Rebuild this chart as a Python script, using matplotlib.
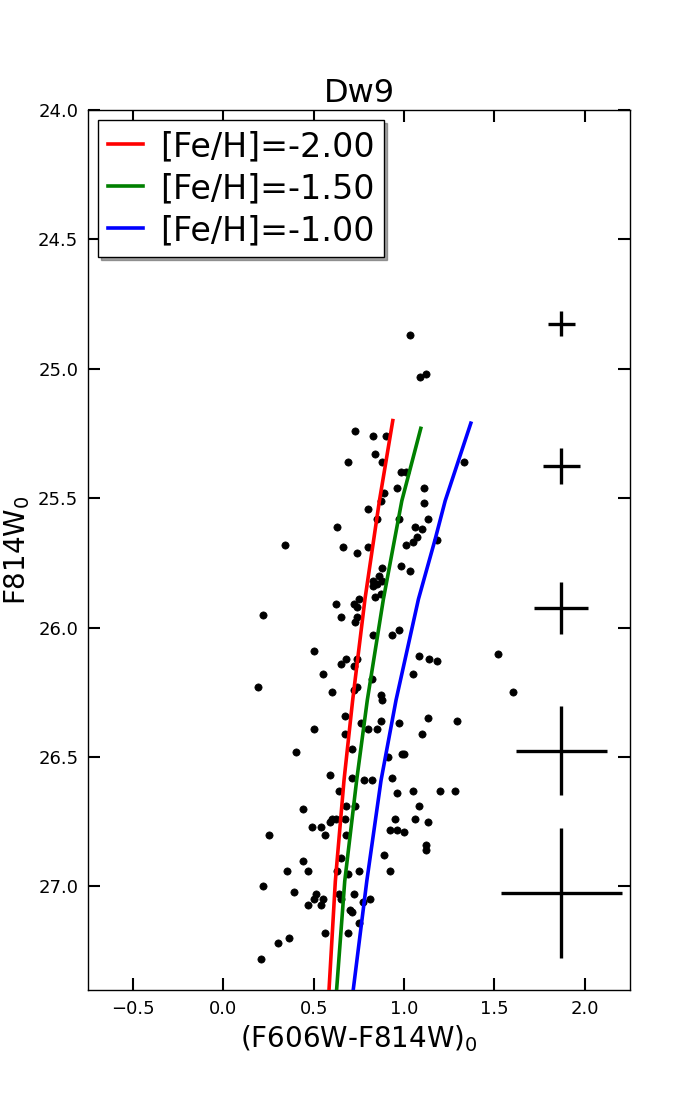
import matplotlib
matplotlib.use("Agg")
import matplotlib.pyplot as plt
import numpy as np

# ---- data ----
star_color = [1.03, 1.12, 1.09,
    0.73, 0.83, 0.90, 0.84, 0.69, 0.88, 0.98, 1.01, 1.33, 0.96, 1.11, 0.89, 0.87, 1.11,
    0.80, 0.85, 0.97, 1.13, 0.63, 1.06, 1.10, 0.34, 0.66, 0.74, 0.80, 1.01, 1.05, 1.07,
    1.18, 0.88, 0.98, 1.03, 0.83, 0.86, 0.88, 0.83, 0.85, 0.84, 0.87, 0.75, 0.62, 0.72,
    0.74, 0.22, 0.65, 0.74, 0.73, 0.83, 0.93, 0.97, 0.50, 0.74, 0.68, 0.65, 0.72, 1.08,
    1.14, 1.18, 1.52, 0.55, 0.82, 1.05, 0.19, 0.60, 0.72, 0.74, 0.87, 0.88, 1.60,
    0.67, 0.76, 0.87, 0.97, 1.13, 1.29, 0.50, 0.67, 0.80, 0.85, 1.10, 0.71, 0.40, 0.91,
    0.99, 1.00, 0.59, 0.71, 0.78, 0.82, 0.93, 0.64, 0.96, 1.05, 1.20, 1.28, 0.68, 0.73,
    1.08, 0.44, 0.62, 0.59, 0.60, 0.67, 0.95, 1.06, 1.13, 0.49, 0.54, 0.25, 0.56, 0.68,
    0.92, 0.96, 1.00, 1.12, 1.12, 0.89, 0.44, 0.65, 0.35, 0.47, 0.63, 0.69, 0.75, 0.92,
    0.22, 0.39, 0.51, 0.50, 0.55, 0.47, 0.54, 0.64, 0.65, 0.72, 0.77, 0.81, 0.70, 0.71,
    0.75, 0.56, 0.69, 0.30, 0.36, 0.21]
star_mag = [24.87, 25.02, 25.03,
    25.24, 25.26, 25.26, 25.33, 25.36, 25.36, 25.40, 25.40, 25.36, 25.46, 25.46, 25.48, 25.51, 25.52,
    25.54, 25.58, 25.58, 25.58, 25.61, 25.61, 25.62, 25.68, 25.69, 25.71, 25.69, 25.68, 25.67, 25.65,
    25.66, 25.77, 25.76, 25.78, 25.82, 25.80, 25.82, 25.84, 25.83, 25.88, 25.87, 25.89, 25.91, 25.91,
    25.92, 25.95, 25.96, 25.96, 25.98, 26.03, 26.03, 26.01, 26.09, 26.12, 26.12, 26.14, 26.15, 26.11,
    26.12, 26.13, 26.10, 26.18, 26.20, 26.18, 26.23, 26.25, 26.24, 26.23, 26.26, 26.28, 26.25,
    26.34, 26.37, 26.36, 26.37, 26.35, 26.36, 26.39, 26.41, 26.39, 26.39, 26.41, 26.47, 26.48, 26.50,
    26.49, 26.49, 26.57, 26.58, 26.59, 26.59, 26.58, 26.63, 26.64, 26.63, 26.63, 26.63, 26.69, 26.69,
    26.69, 26.70, 26.74, 26.75, 26.74, 26.74, 26.74, 26.74, 26.75, 26.77, 26.77, 26.80, 26.80, 26.80,
    26.78, 26.78, 26.79, 26.84, 26.86, 26.88, 26.90, 26.89, 26.94, 26.94, 26.94, 26.95, 26.94, 26.94,
    27.00, 27.02, 27.03, 27.05, 27.05, 27.07, 27.07, 27.03, 27.05, 27.03, 27.06, 27.05, 27.09, 27.10,
    27.14, 27.18, 27.18, 27.22, 27.20, 27.28]

iso_labels = ["[Fe/H]=-2.00", "[Fe/H]=-1.50", "[Fe/H]=-1.00"]
iso_colors = ["red", "green", "blue"]
iso_red_mag = [25.20, 25.51, 25.89, 26.28, 26.59, 26.98, 27.40]
iso_red_col = [0.937, 0.863, 0.783, 0.715, 0.667, 0.619, 0.584]
iso_green_mag = [25.23, 25.51, 25.89, 26.28, 26.59, 26.98, 27.40]
iso_green_col = [1.092, 0.987, 0.885, 0.796, 0.737, 0.671, 0.626]
iso_blue_mag = [25.21, 25.51, 25.66, 25.89, 26.28, 26.59, 26.98, 27.40]
iso_blue_col = [1.369, 1.227, 1.171, 1.079, 0.955, 0.872, 0.793, 0.718]

err_x = [1.87, 1.87, 1.87, 1.87, 1.87]
err_mag = [24.825, 25.375, 25.925, 26.475, 27.025]
err_col = [0.074, 0.104, 0.150, 0.250, 0.334]
err_magerr = [0.048, 0.069, 0.100, 0.172, 0.250]

xticks = [-0.5, 0.0, 0.5, 1.0, 1.5, 2.0]
yticks = [24.0, 24.5, 25.0, 25.5, 26.0, 26.5, 27.0]

# ---- figure ----
plt.rcParams['font.family'] = ['DejaVu Sans']
plt.rcParams['mathtext.default'] = 'regular'
fig = plt.figure(figsize=(7, 11), dpi=100)
ax = fig.add_axes([0.1257, 0.1, 0.9 - 0.1257, 0.8])

ax.plot(star_color, star_mag, 'o', color='black', ms=5.2, mec='black', mew=0.5, zorder=3)

iso_cols = [iso_red_col, iso_green_col, iso_blue_col]
iso_mags = [iso_red_mag, iso_green_mag, iso_blue_mag]
for c, m, col, lab in zip(iso_cols, iso_mags, iso_colors, iso_labels):
    ax.plot(c, m, '-', color=col, lw=2.6, label=lab, zorder=4)

ax.errorbar(err_x, err_mag, xerr=err_col, yerr=err_magerr, fmt='none',
            ecolor='black', elinewidth=2.4, capsize=0, zorder=5)

ax.set_xlim(-0.75, 2.25)
ax.set_ylim(27.4, 24.0)
ax.set_xticks(xticks)
ax.set_yticks(yticks)
ax.set_xticklabels([f"{t:.1f}".replace('-', '\u2212') for t in xticks])
ax.set_yticklabels([f"{t:.1f}" for t in yticks])
ax.tick_params(direction='in', length=8.5, width=1.5, top=True, right=True,
               labelsize=13, pad=7)
for s in ax.spines.values():
    s.set_linewidth(1.0)

ax.set_xlabel(r'(F606W-F814W)$_0$', fontsize=20)
ax.set_ylabel(r'F814W$_0$', fontsize=20)
ax.set_title('Dw9', fontsize=23)

leg = ax.legend(loc='upper left', fontsize=24, handlelength=1.05, frameon=True,
                fancybox=False, shadow=True, borderpad=0.3, labelspacing=0.27,
                handletextpad=0.5, borderaxespad=0.3)
leg.get_frame().set_edgecolor('black')
leg.get_frame().set_linewidth(1.0)

fig.savefig('out.png', dpi=100, facecolor='white')
